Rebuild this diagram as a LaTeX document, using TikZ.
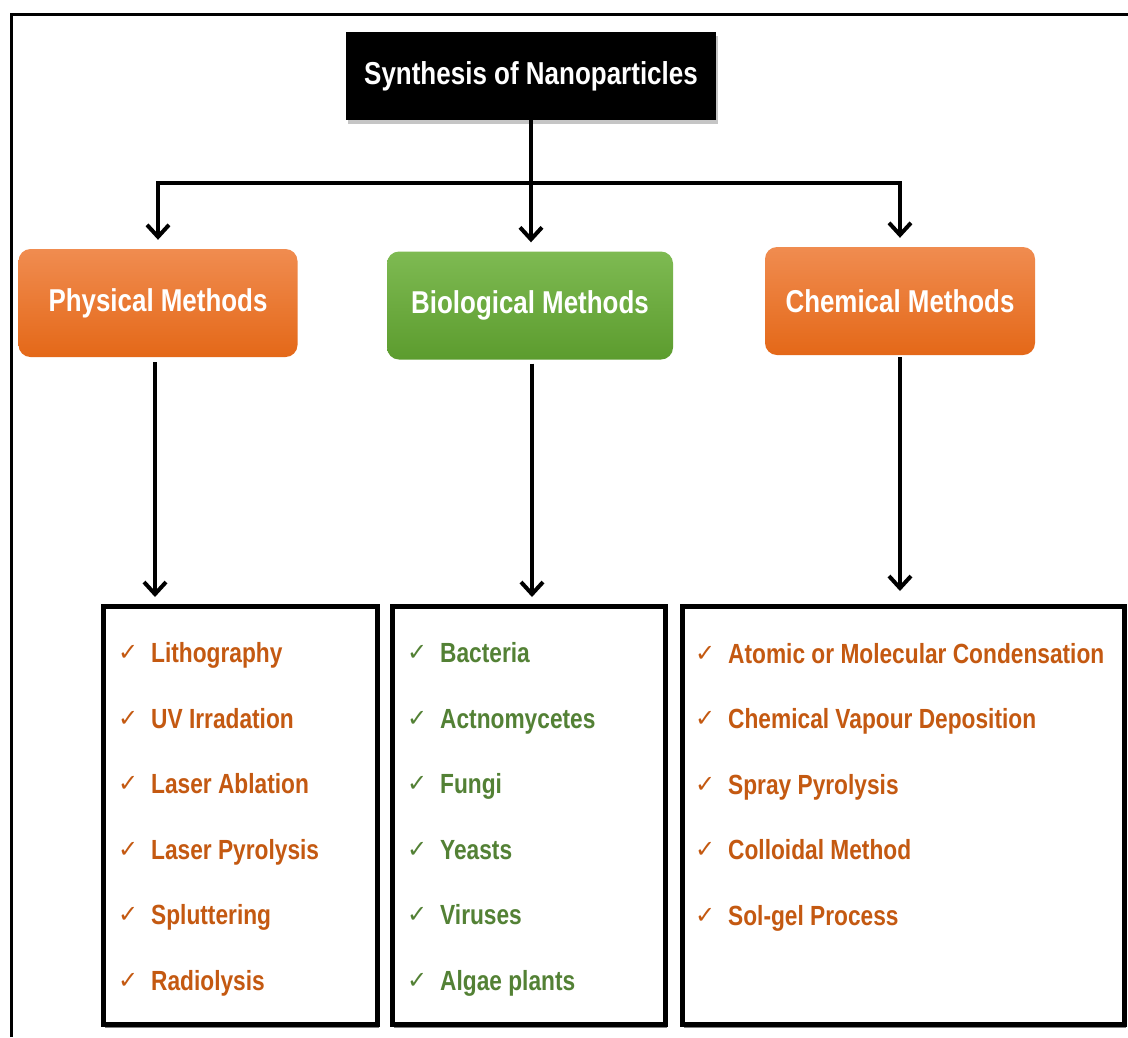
\documentclass[tikz,border=0pt]{standalone}
\usepackage{fontspec}
\setmainfont{Liberation Sans}[FakeStretch=0.82]
\newfontfamily\chkfont{DejaVu Sans}
\usetikzlibrary{arrows.meta,shadows}
\definecolor{orTxt}{RGB}{196,89,17}
\definecolor{grTxt}{RGB}{83,129,53}
\definecolor{orTop}{RGB}{240,140,80}
\definecolor{orBot}{RGB}{228,104,24}
\definecolor{grTop}{RGB}{126,186,82}
\definecolor{grBot}{RGB}{92,156,46}
\tikzset{
  arr/.style={line width=4pt, -{Straight Barb[length=12pt,width=22pt,line width=4pt]}},
  titlebox/.style={fill=black, text=white, minimum width=370pt, minimum height=88pt,
    inner sep=0pt, font=\bfseries\fontsize{31.7}{36}\selectfont,
    drop shadow={shadow xshift=2pt, shadow yshift=-4pt, opacity=0.45}},
  headbox/.style={rounded corners=12pt, text=white, inner sep=0pt,
    minimum height=108pt, font=\bfseries\fontsize{31.6}{36}\selectfont},
  orhead/.style={headbox, top color=orTop, bottom color=orBot},
  grhead/.style={headbox, top color=grTop, bottom color=grBot},
  listbox/.style={draw=black, line width=5pt, fill=white, inner sep=0pt,
    drop shadow={shadow xshift=1pt, shadow yshift=-3pt, opacity=0.5, fill=black}},
  item/.style={anchor=base west, inner sep=0pt, font=\bfseries\fontsize{27.7}{32}\selectfont},
  oritem/.style={item, text=orTxt},
  gritem/.style={item, text=grTxt},
  frameline/.style={line width=3pt, draw=black}
}
\newcommand{\chk}{\makebox[33pt][l]{\raisebox{1.5pt}{\chkfont\mdseries\fontsize{24}{28}\selectfont ✓}}}
\begin{document}
\begin{tikzpicture}[x=1pt,y=-1pt]
\useasboundingbox (0,0) rectangle (1128,1037);
\fill[white] (0,0) rectangle (1128,1037);
% outer frame (top and left)
\draw[frameline] (11,1037) -- (11,14) -- (1128,14);

% title
\node[titlebox] (title) at (531,76) {Synthesis of Nanoparticles};

% headers
\node[orhead, minimum width=279pt] (phys) at (158,303) {Physical Methods};
\node[grhead, minimum width=286pt] (bio) at (530,305.5) {Biological Methods};
\node[orhead, minimum width=270pt] (chem) at (900,301) {Chemical Methods};

% list boxes
\node[listbox, minimum width=274pt, minimum height=418pt] (plist) at (240.5,815.5) {};
\node[listbox, minimum width=273pt, minimum height=418pt] (blist) at (529,815.5) {};
\node[listbox, minimum width=442pt, minimum height=418pt] (clist) at (903.5,815.5) {};

% connectors
\coordinate (hub) at (531,183);
\draw[arr, shorten >=9pt] (title.south) -- (title.south |- bio.north);
\draw[arr, shorten >=9pt] (hub) -| (phys.north);
\draw[arr, shorten >=9pt] (hub) -| (chem.north);
\draw[arr, shorten <=5pt, shorten >=7pt] ([xshift=-3pt]phys.south) -- ([xshift=-3pt]phys.south |- plist.north);
\draw[arr, shorten <=4pt, shorten >=7pt] ([xshift=2pt]bio.south) -- ([xshift=2pt]bio.south |- blist.north);
\draw[arr, shorten <=2pt, shorten >=13pt] (chem.south) -- (chem.south |- clist.north);

% physical items
\node[oritem] (p1) at (118,662) {\chk Lithography};
\node[oritem] (p2) at (118,728) {\chk UV Irradation};
\node[oritem] (p3) at (118,793) {\chk Laser Ablation};
\node[oritem] (p4) at (118,859) {\chk Laser Pyrolysis};
\node[oritem] (p5) at (118,924) {\chk Spluttering};
\node[oritem] (p6) at (118,990) {\chk Radiolysis};

% biological items
\node[gritem] (b1) at (407,662) {\chk Bacteria};
\node[gritem] (b2) at (407,728) {\chk Actnomycetes};
\node[gritem] (b3) at (407,793) {\chk Fungi};
\node[gritem] (b4) at (407,859) {\chk Yeasts};
\node[gritem] (b5) at (407,924) {\chk Viruses};
\node[gritem] (b6) at (407,990) {\chk Algae plants};

% chemical items
\node[oritem] (c1) at (695,663) {\chk Atomic or Molecular Condensation};
\node[oritem] (c2) at (695,728) {\chk Chemical Vapour Deposition};
\node[oritem] (c3) at (695,794) {\chk Spray Pyrolysis};
\node[oritem] (c4) at (695,859) {\chk Colloidal Method};
\node[oritem] (c5) at (695,925) {\chk Sol-gel Process};
\end{tikzpicture}
\end{document}
